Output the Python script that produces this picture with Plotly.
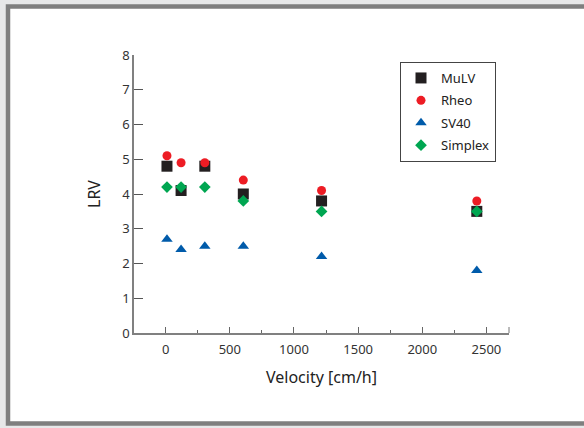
import plotly.graph_objects as go

velocity = [10, 120, 305, 605, 1215, 2425]
mulv = [4.8, 4.1, 4.8, 4.0, 3.8, 3.5]
rheo = [5.1, 4.9, 4.9, 4.4, 4.1, 3.8]
sv40 = [2.7, 2.4, 2.5, 2.5, 2.2, 1.8]
simplex = [4.2, 4.2, 4.2, 3.8, 3.5, 3.5]

W, H = 584, 428
L, R, T, B = 134, 509, 55, 333

def px(x):
    return (x - L) / (R - L)

def py(y):
    return (B - y) / (B - T)

fig = go.Figure()
series = [
    ("MuLV", mulv, "square", "#231f20", 11),
    ("Rheo", rheo, "circle", "#ed1c24", 9),
    ("SV40", sv40, "triangle-up", "#005baa", 10),
    ("Simplex", simplex, "diamond", "#00a651", 9),
]
for name, vals, sym, col, size in series:
    fig.add_trace(go.Scatter(
        x=velocity, y=vals, mode="markers", name=name, legendgroup=name,
        marker=dict(symbol=sym, color=col, size=size, line=dict(width=0)),
    ))

font = "Noto Sans, Open Sans, sans-serif"
fig.update_layout(
    width=W, height=H,
    margin=dict(l=L, r=W - R, t=T, b=H - B, pad=0),
    paper_bgcolor="#e7e8e9",
    plot_bgcolor="rgba(0,0,0,0)",
    font=dict(family=font, size=13, color="#333333"),
    showlegend=True,
    legend=dict(
        x=px(400), y=py(62), xanchor="left", yanchor="top",
        bgcolor="white", bordercolor="#444444", borderwidth=1,
        font=dict(size=13, color="#222222"),
        itemwidth=30, tracegroupgap=2.5,
    ),
    shapes=[
        dict(type="rect", xref="paper", yref="paper",
             x0=px(8), x1=px(600), y0=py(423.5), y1=py(6.5),
             line=dict(color="#7f7f7f", width=4.5), fillcolor="white",
             layer="below"),
        dict(type="line", xref="paper", yref="paper",
             x0=1, x1=1, y0=0, y1=py(B - 6),
             line=dict(color="#777777", width=1)),
    ],
)
fig.update_xaxes(
    range=[-247, 2676], showgrid=False, zeroline=False,
    showline=True, linecolor="#808080", linewidth=1.5,
    ticks="inside", ticklen=6, tickcolor="#666666", tickwidth=1,
    dtick=500, tick0=0, ticklabelstandoff=4,
    minor=dict(ticks="inside", ticklen=3, dtick=250, tick0=0, tickcolor="#666666"),
    tickfont=dict(size=13, color="#333333"),
    title=dict(text="Velocity [cm/h]", font=dict(size=16, color="#222222"), standoff=14),
)
fig.update_yaxes(
    range=[0, 8], showgrid=False, zeroline=False,
    showline=True, linecolor="#808080", linewidth=1.5,
    ticks="inside", ticklen=9, tickcolor="#555555", tickwidth=1.2,
    dtick=1, tick0=0,
    tickfont=dict(size=13, color="#333333"),
    title=dict(text="LRV", font=dict(size=16, color="#222222"), standoff=18),
)
fig.write_html(
    "out.html",
    config={"displayModeBar": False},
    post_script="document.body.style.margin='0';document.body.style.overflow='hidden';",
)
